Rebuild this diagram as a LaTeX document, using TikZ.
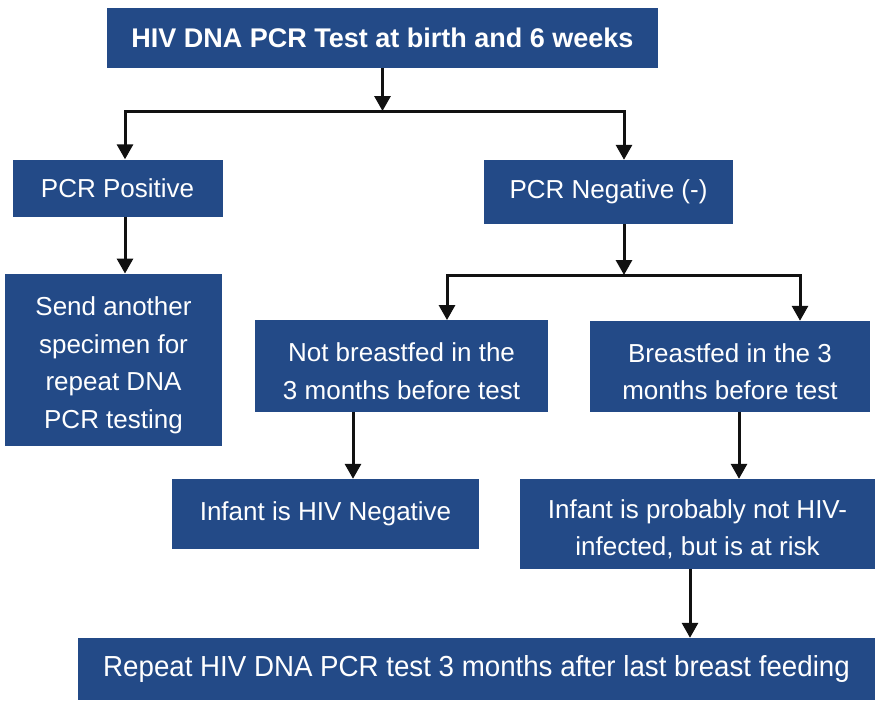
\documentclass[tikz,border=0pt]{standalone}
\usepackage{fontspec}
\setmainfont{Liberation Sans}
\usetikzlibrary{arrows.meta}
\definecolor{boxblue}{RGB}{35,74,135}
\definecolor{arrowblack}{RGB}{17,17,17}
\newcommand{\downstrut}{\rule{0pt}{29pt}}
\tikzset{
  box/.style={fill=boxblue, draw=none, text=white, inner sep=0pt, align=center,
    font=\fontsize{26}{37.5}\selectfont},
  arr/.style={draw=arrowblack, line width=3pt, -{Triangle[length=15pt,width=16pt]}},
  ln/.style={draw=arrowblack, line width=3pt, line cap=rect},
}
\begin{document}
\begin{tikzpicture}[x=1pt,y=-1pt]
\useasboundingbox (0,0) rectangle (875,702);
% boxes
\node[box, minimum width=551, minimum height=60, font=\fontsize{27}{32}\selectfont\bfseries] (top) at (382.5,38) {HIV DNA PCR Test at birth and 6 weeks};
\node[box, minimum width=210, minimum height=57] (pos) at (117.5,188) {PCR Positive};
\node[box, minimum width=249, minimum height=64] (neg) at (608.5,192) {PCR Negative (-)};
\node[box, minimum width=217, minimum height=172.5] (send) at (113.5,360) {\downstrut Send another\\specimen for\\repeat DNA\\PCR testing};
\node[box, minimum width=293, minimum height=91.5] (nbf) at (401.5,366) {\downstrut Not breastfed in the\\3 months before test};
\node[box, minimum width=280, minimum height=91] (bf) at (730,366.5) {\downstrut Breastfed in the 3\\months before test};
\node[box, minimum width=307, minimum height=70] (infneg) at (325.5,514) {Infant is HIV Negative};
\node[box, minimum width=355, minimum height=90] (infprob) at (697.5,524) {\downstrut Infant is probably not HIV-\\infected, but is at risk};
\node[box, minimum width=797, minimum height=62, font=\fontsize{29}{34}\selectfont] (bottom) at (476.5,669) {\scalebox{0.955}[1]{Repeat HIV DNA PCR test 3 months after last breast feeding}};
% junctions
\coordinate (jL) at (125,111);
\coordinate (jR) at (624,111);
\coordinate (kL) at (447,275);
\coordinate (kR) at (800,275);
% connectors
\draw[ln] (jL) -- (jR);
\draw[arr] (top.south) -- (top.south |- jL);
\draw[arr] (jL) -- (jL |- pos.north);
\draw[arr] (jR) -- (jR |- neg.north);
\draw[arr] (pos.south -| jL) -- (send.north -| jL);
\draw[ln] (kL) -- (kR);
\draw[arr] (neg.south -| jR) -- (jR |- kL);
\draw[arr] (kL) -- (kL |- nbf.north);
\draw[arr] (kR) -- (kR |- bf.north);
\coordinate (c1) at (353,0);
\coordinate (c2) at (739,0);
\coordinate (c3) at (690,0);
\draw[arr] (nbf.south -| c1) -- (infneg.north -| c1);
\draw[arr] (bf.south -| c2) -- (infprob.north -| c2);
\draw[arr] (infprob.south -| c3) -- (bottom.north -| c3);
\end{tikzpicture}
\end{document}
